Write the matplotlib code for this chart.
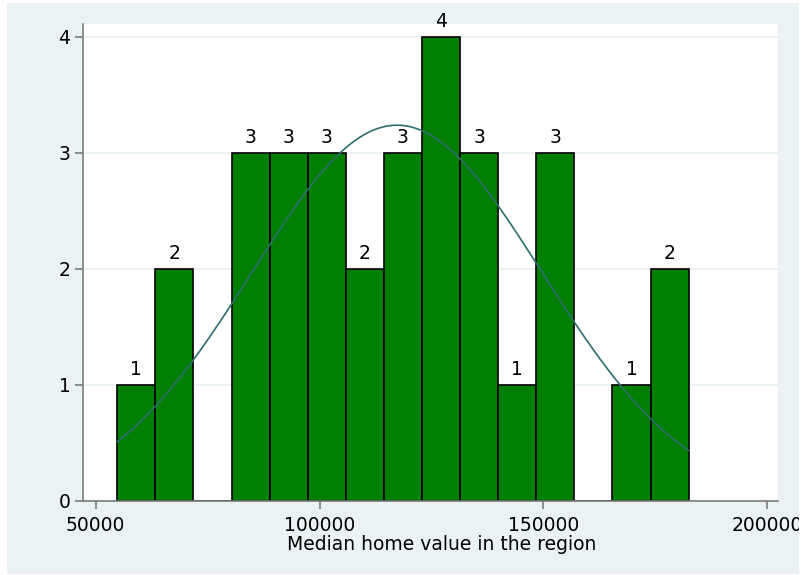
import numpy as np
import matplotlib.pyplot as plt
from matplotlib.patches import Rectangle

# Histogram: 15 equal-width bins
counts = [1, 2, 0, 3, 3, 3, 2, 3, 4, 3, 1, 3, 0, 1, 2]
data_min = 54820
data_max = 182433
bin_edges = np.linspace(data_min, data_max, len(counts) + 1)

# normal density overlay (mean / sd estimated from the curve)
mu = 117300
sd = 32500
n_obs = sum(counts)

x_ticks = [50000, 100000, 150000, 200000]
y_ticks = [0, 1, 2, 3, 4]

bg = '#EAF2F3'
bar_color = '#007F00'
curve_color = '#2E6E6E'
axis_gray = '#7A7A7A'
fs = 13.5

plt.rcParams['font.family'] = ['DejaVu Sans']

fig = plt.figure(figsize=(8.05, 5.75), dpi=100)
fig.patch.set_facecolor(bg)
ax = fig.add_axes([83 / 805, 74 / 575, (778.3 - 83) / 805, (501 - 24) / 575])

widths = np.diff(bin_edges)
lefts = bin_edges[:-1]
ax.bar(lefts, counts, width=widths, align='edge', color=bar_color,
       edgecolor='black', linewidth=1.2, zorder=2)

for l, w, c in zip(lefts, widths, counts):
    if c > 0:
        ax.annotate(str(c), (l + w / 2, c), xytext=(0, 7), textcoords='offset points',
                    ha='center', va='baseline', fontsize=fs, color='black')

xs = np.linspace(data_min, data_max, 300)
bw = widths[0]
dens = n_obs * bw / (sd * np.sqrt(2 * np.pi)) * np.exp(-0.5 * ((xs - mu) / sd) ** 2)
ax.plot(xs, dens, color=curve_color, linewidth=1.2, zorder=3)

ax.set_xlim(47165, 202455)
ax.set_ylim(0, 4.109)
ax.set_xticks(x_ticks)
ax.set_xticklabels([str(t) for t in x_ticks])
ax.set_yticks(y_ticks)
ax.yaxis.grid(True, color=bg, linewidth=1.5, zorder=0)
ax.set_axisbelow(True)

for s in ['top', 'right']:
    ax.spines[s].set_visible(False)
for s in ['left', 'bottom']:
    ax.spines[s].set_color(axis_gray)
    ax.spines[s].set_linewidth(1.2)
ax.tick_params(axis='both', colors=axis_gray, labelcolor='black', labelsize=fs,
               length=6, width=1.2)
ax.tick_params(axis='y', pad=3)
ax.tick_params(axis='x', pad=5)

ax.set_xlabel('Median home value in the region', fontsize=fs)
ax.xaxis.set_label_coords(0.516, -0.072)

# white margin around the graph region (clips the last tick label like the original)
fig.add_artist(Rectangle((799 / 805, 0), 1, 1, transform=fig.transFigure,
                         facecolor='white', edgecolor='none', zorder=10))
fig.add_artist(Rectangle((0, 0), 7 / 805, 1, transform=fig.transFigure,
                         facecolor='white', edgecolor='none', zorder=10))
fig.add_artist(Rectangle((0, 572 / 575), 1, 1, transform=fig.transFigure,
                         facecolor='white', edgecolor='none', zorder=10))
fig.add_artist(Rectangle((0, 0), 1, 1 / 575, transform=fig.transFigure,
                         facecolor='white', edgecolor='none', zorder=10))

fig.savefig('out.png', dpi=100)
